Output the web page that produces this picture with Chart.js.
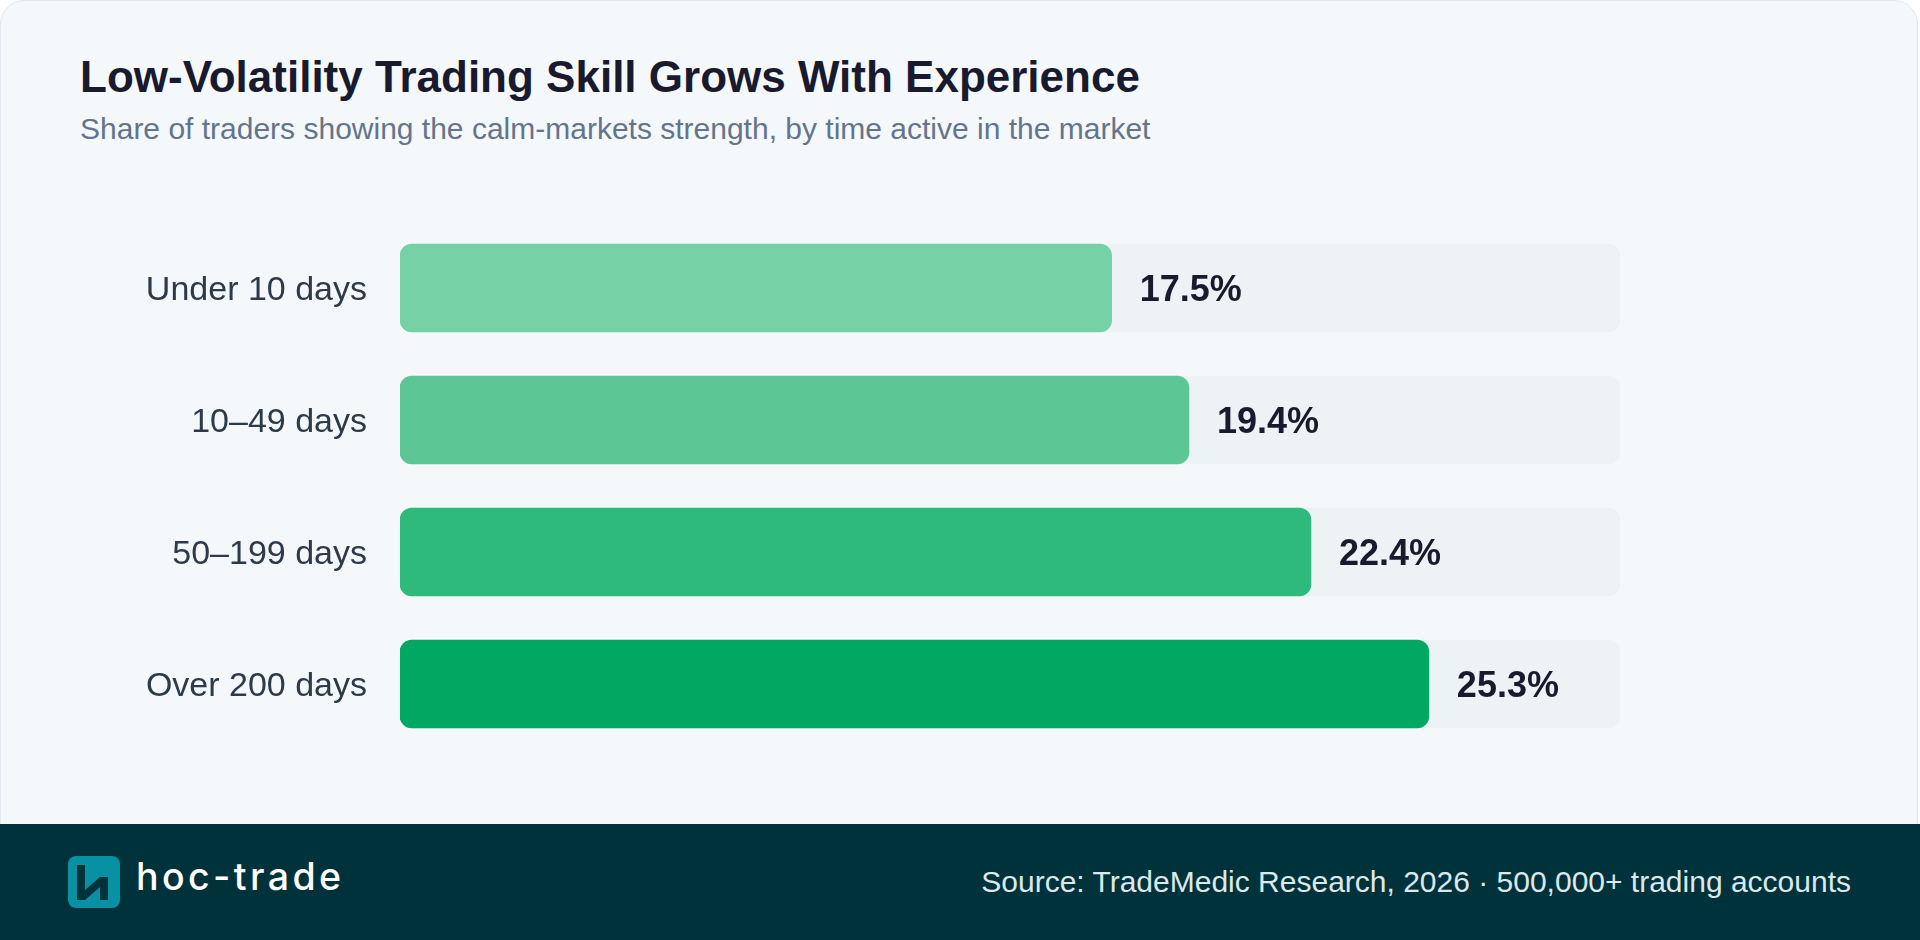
<!DOCTYPE html>
<html>
<head>
<meta charset="utf-8">
<script src="https://cdn.jsdelivr.net/npm/chart.js@4.4.1/dist/chart.umd.min.js"></script>
<style>
  html, body { margin:0; padding:0; width:1920px; height:940px; overflow:hidden; background:#ffffff; font-family:"Liberation Sans", Arial, sans-serif; }
  #card { position:absolute; left:0; top:0; width:1918px; height:880px; background:#f4f8fb; border:1px solid #e2e8f0; border-radius:24px; box-sizing:border-box; }
  #title { position:absolute; left:80px; top:53px; font-size:44px; font-weight:700; color:#1a1a2e; white-space:nowrap; line-height:1.1; }
  #subtitle { position:absolute; left:80px; top:112px; font-size:30px; color:#64748b; white-space:nowrap; line-height:1.1; }
  #chartWrap { position:absolute; left:0; top:0; width:1920px; height:824px; }
  #footer { position:absolute; left:0; top:824px; width:1920px; height:116px; background:#00323c; }
  #logoText { position:absolute; left:136px; top:858px; font-family:Inter, "Noto Sans", sans-serif; font-weight:500; font-size:37.5px; color:#ffffff; line-height:1; white-space:nowrap; letter-spacing:3.4px; }
  #source { position:absolute; right:69px; top:865px; font-size:30px; color:#dce8ec; white-space:nowrap; line-height:1.1; }
  #logoIcon { position:absolute; left:68px; top:856px; }
</style>
</head>
<body>
<div id="card"></div>
<div id="title">Low-Volatility Trading Skill Grows With Experience</div>
<div id="subtitle">Share of traders showing the calm-markets strength, by time active in the market</div>
<div id="chartWrap"><canvas id="c" width="1920" height="824"></canvas></div>
<div id="footer"></div>
<svg id="logoIcon" width="52" height="52" viewBox="0 0 52 52">
  <rect x="0" y="0" width="52" height="52" rx="8" ry="8" fill="#0891a3"/>
  <path d="M9 9 h8 v25 l15 -13 h8 v23 h-8 v-13 l-15 13 h-8 z" fill="#00323c"/>
</svg>
<div id="logoText">hoc-trade</div>
<div id="source">Source: TradeMedic Research, 2026 · 500,000+ trading accounts</div>
<script>
const categories = ["Under 10 days", "10\u201349 days", "50\u2013199 days", "Over 200 days"];
const shareValues = [17.5, 19.4, 22.4, 25.3];
const barColors = ["#77d1a7", "#5cc794", "#2dba7a", "#00a862"];
const AXIS_MAX = 30;
const trackValues = categories.map(() => AXIS_MAX);

const valueLabels = {
  id: 'valueLabels',
  afterDatasetsDraw(chart) {
    const ctx = chart.ctx;
    const meta = chart.getDatasetMeta(0);
    ctx.save();
    ctx.font = 'bold 36px "Liberation Sans", Arial, sans-serif';
    ctx.fillStyle = '#1a1a2e';
    ctx.textAlign = 'left';
    ctx.textBaseline = 'middle';
    meta.data.forEach((bar, i) => {
      ctx.fillText(shareValues[i].toFixed(1) + '%', bar.x + 28, bar.y + 3);
    });
    ctx.restore();
  }
};

new Chart(document.getElementById('c'), {
  type: 'bar',
  data: {
    labels: categories,
    datasets: [
      {
        label: 'Share of traders',
        data: shareValues,
        backgroundColor: barColors,
        borderRadius: 12,
        borderSkipped: false,
        barThickness: 88,
        grouped: false,
        order: 1
      },
      {
        label: 'Track',
        data: trackValues,
        backgroundColor: '#edf2f5',
        borderRadius: 12,
        borderSkipped: false,
        barThickness: 88,
        grouped: false,
        order: 2
      }
    ]
  },
  options: {
    indexAxis: 'y',
    responsive: false,
    animation: false,
    devicePixelRatio: 1,
    layout: { padding: { left: 0, right: 300, top: 222, bottom: 74 } },
    plugins: { legend: { display: false }, tooltip: { enabled: false }, title: { display: false } },
    scales: {
      x: { display: false, min: 0, max: AXIS_MAX },
      y: {
        grid: { display: false },
        border: { display: false },
        ticks: {
          color: '#2d3a4a',
          font: { size: 34, family: '"Liberation Sans", Arial, sans-serif' },
          padding: 25,
          labelOffset: 3
        },
        afterFit(scale) { scale.width = 400; }
      }
    }
  },
  plugins: [valueLabels]
});
</script>
</body>
</html>
